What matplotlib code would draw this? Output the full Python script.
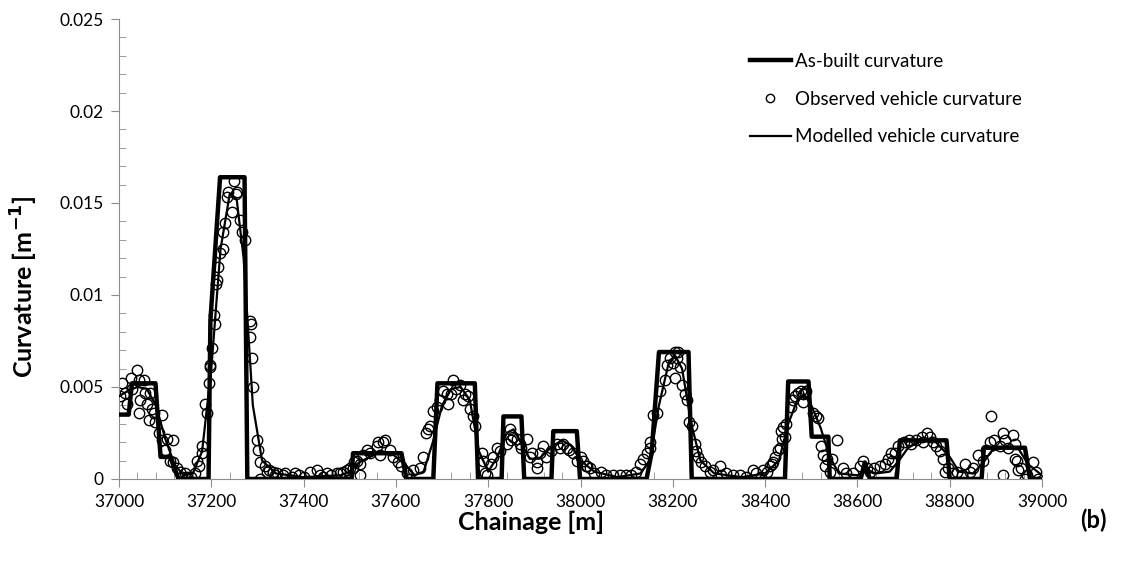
"""Curvature along the chainage: as-built design, observed vehicle and modelled vehicle."""

import numpy as np
import matplotlib
matplotlib.use('Agg')
import matplotlib.pyplot as plt
from matplotlib.ticker import MultipleLocator

plt.rcParams['font.family'] = ['Lato', 'DejaVu Sans']

# as-built curvature (piecewise linear alignment)
asbuilt_x = [37000, 37021, 37028, 37079, 37090, 37111, 37129, 37194, 37198, 37219, 37272, 37278,
             37504, 37507, 37612, 37623, 37681, 37690, 37771, 37778, 37829, 37833, 37872, 37878,
             37937, 37941, 37992, 37999, 38143, 38154, 38170, 38234, 38241, 38443, 38450, 38494,
             38501, 38537, 38540, 38607, 38616, 38627, 38685, 38692, 38793, 38800, 38869, 38874,
             38963, 38974, 39000]
asbuilt_y = [0.0035, 0.0035, 0.0052, 0.0052, 0.0012, 0.0012, 0.0, 0.0, 0.0086, 0.0164, 0.0164, 0.0,
             0.0, 0.0014, 0.0014, 0.0, 0.0, 0.0052, 0.0052, 0.0, 0.0, 0.0034, 0.0034, 0.0,
             0.0, 0.0026, 0.0026, 0.0, 0.0, 0.0014, 0.0069, 0.0069, 0.0, 0.0, 0.0053, 0.0053,
             0.0023, 0.0023, 0.0, 0.0, 0.0009, 0.0, 0.0, 0.0021, 0.0021, 0.0, 0.0, 0.0017,
             0.0017, 0.0, 0.0]

# observed vehicle curvature
obs_x = [37003, 37006, 37014, 37017, 37025, 37028, 37039, 37043, 37046, 37043, 37054, 37057,
         37061, 37064, 37068, 37072, 37075, 37079, 37093, 37086, 37093, 37104, 37118, 37100,
         37111, 37118, 37126, 37133, 37137, 37144, 37147, 37155, 37165, 37169, 37173, 37180,
         37180, 37187, 37191, 37194, 37198, 37197, 37201, 37206, 37208, 37210, 37212, 37215,
         37219, 37226, 37226, 37230, 37233, 37237, 37244, 37249, 37255, 37253, 37262, 37266,
         37273, 37284, 37285, 37284, 37288, 37290, 37298, 37302, 37306, 37316, 37320, 37306,
         37334, 37338, 37356, 37360, 37374, 37382, 37414, 37428, 37443, 37450, 37472, 37486,
         37500, 37510, 37390, 37400, 37436, 37460, 37343, 37326,
         37479, 37493, 37508, 37515, 37522, 37522, 37529, 37537, 37544, 37558, 37562, 37573,
         37576, 37566, 37587, 37594, 37605, 37612, 37623, 37630, 37637, 37652, 37659, 37666,
         37670, 37674, 37681, 37688, 37695, 37702, 37710, 37713, 37720, 37724, 37731, 37739,
         37746, 37750, 37757, 37761, 37768, 37771, 37786, 37789, 37793, 37797, 37807, 37811,
         37818, 37825, 37840, 37847, 37850, 37854, 37862, 37868, 37872, 37883, 37890, 37894,
         37905, 37905, 37912, 37919, 37926, 37937, 37948, 37955, 37962, 37970, 37976, 37984,
         37992, 38002, 38012,
         38006, 38013, 38020, 38030, 38045, 38056, 38070, 38085, 38099, 38110, 38121, 38128,
         38136, 38143, 38150, 38150, 38158, 38165, 38172, 38183, 38188, 38194, 38201, 38205,
         38208, 38212, 38205, 38215, 38219, 38226, 38230, 38234, 38241, 38248, 38251, 38255,
         38262, 38270, 38280, 38288, 38302, 38305, 38316, 38330, 38345, 38359, 38374, 38381,
         38395, 38410, 38418, 38421, 38428, 38436, 38439, 38446,
         38435, 38432, 38392, 38403, 38414, 38443, 38461, 38457, 38464, 38472, 38478, 38482,
         38486, 38489, 38482, 38504, 38511, 38515, 38522, 38526, 38533, 38544, 38555, 38529,
         38540, 38569, 38576, 38591, 38605, 38612, 38620, 38627, 38637, 38648, 38659, 38666,
         38673,
         38674, 38681, 38689, 38700, 38711, 38717, 38728, 38739, 38743, 38750, 38757, 38764,
         38771, 38779, 38786, 38790, 38797, 38804, 38815, 38826, 38833, 38844, 38851, 38862,
         38872, 38879, 38887, 38890, 38897, 38908, 38916, 38919, 38926, 38938, 38941, 38941,
         38945, 38948, 38916, 38955, 38963, 38967, 38981, 38988, 38991]
obs_y = [0.0045, 0.0052, 0.0047, 0.0041, 0.0055, 0.0049, 0.0059, 0.0054, 0.0043, 0.0036, 0.0054, 0.0047,
         0.0041, 0.0032, 0.0047, 0.0038, 0.0036, 0.0031, 0.0035, 0.0025, 0.0021, 0.0022, 0.0021, 0.0016,
         0.0010, 0.0009, 0.0006, 0.0004, 0.0001, 0.0003, 0.0001, 0.0001, 0.0003, 0.0010, 0.0007, 0.0014,
         0.0018, 0.0041, 0.0036, 0.0052, 0.0062, 0.0061, 0.0071, 0.0089, 0.0084, 0.0106, 0.0108, 0.0115,
         0.0123, 0.0125, 0.0134, 0.0139, 0.0153, 0.0156, 0.0145, 0.0162, 0.0156, 0.0155, 0.0141, 0.0134,
         0.0130, 0.0086, 0.0084, 0.0077, 0.0066, 0.0050, 0.0021, 0.0016, 0.0009, 0.0007, 0.0004, 0.0000,
         0.0004, 0.0002, 0.0002, 0.0003, 0.0001, 0.0003, 0.0004, 0.0005, 0.0001, 0.0003, 0.0003, 0.0004,
         0.0006, 0.0009, 0.0002, 0.0001, 0.0002, 0.0002, 0.0003, 0.0005,
         0.0003, 0.0005, 0.0006, 0.0010, 0.0002, 0.0008, 0.0013, 0.0016, 0.0014, 0.0018, 0.0020, 0.0020,
         0.0021, 0.0013, 0.0016, 0.0012, 0.0009, 0.0007, 0.0003, 0.0000, 0.0005, 0.0006, 0.0012, 0.0025,
         0.0027, 0.0029, 0.0037, 0.0039, 0.0043, 0.0048, 0.0046, 0.0041, 0.0046, 0.0054, 0.0049, 0.0051,
         0.0043, 0.0046, 0.0045, 0.0038, 0.0034, 0.0029, 0.0014, 0.0010, 0.0003, 0.0002, 0.0008, 0.0012,
         0.0017, 0.0015, 0.0019, 0.0027, 0.0021, 0.0023, 0.0022, 0.0019, 0.0017, 0.0022, 0.0012, 0.0014,
         0.0009, 0.0006, 0.0014, 0.0018, 0.0012, 0.0015, 0.0019, 0.0017, 0.0019, 0.0017, 0.0016, 0.0014,
         0.0010, 0.0012, 0.0007,
         0.0010, 0.0007, 0.0006, 0.0003, 0.0004, 0.0002, 0.0002, 0.0002, 0.0002, 0.0002, 0.0004, 0.0008,
         0.0011, 0.0014, 0.0020, 0.0017, 0.0035, 0.0036, 0.0048, 0.0054, 0.0062, 0.0066, 0.0063, 0.0069,
         0.0066, 0.0069, 0.0055, 0.0061, 0.0051, 0.0046, 0.0043, 0.0031, 0.0029, 0.0019, 0.0015, 0.0012,
         0.0009, 0.0007, 0.0004, 0.0005, 0.0007, 0.0002, 0.0003, 0.0002, 0.0002, 0.0001, 0.0005, 0.0003,
         0.0005, 0.0007, 0.0009, 0.0012, 0.0016, 0.0022, 0.0028, 0.0030,
         0.0026, 0.0017, 0.0001, 0.0004, 0.0008, 0.0023, 0.0043, 0.0039, 0.0045, 0.0047, 0.0048, 0.0046,
         0.0047, 0.0048, 0.0042, 0.0036, 0.0034, 0.0033, 0.0018, 0.0013, 0.0011, 0.0011, 0.0021, 0.0007,
         0.0004, 0.0006, 0.0003, 0.0003, 0.0007, 0.0010, 0.0006, 0.0004, 0.0006, 0.0007, 0.0008, 0.0011,
         0.0014,
         0.0010, 0.0014, 0.0018, 0.0020, 0.0021, 0.0019, 0.0021, 0.0023, 0.0020, 0.0025, 0.0023, 0.0020,
         0.0018, 0.0015, 0.0011, 0.0004, 0.0006, 0.0003, 0.0004, 0.0002, 0.0008, 0.0004, 0.0006, 0.0013,
         0.0010, 0.0016, 0.0020, 0.0034, 0.0021, 0.0018, 0.0025, 0.0021, 0.0017, 0.0024, 0.0019, 0.0011,
         0.0010, 0.0005, 0.0002, 0.0006, 0.0000, 0.0002, 0.0009, 0.0004, 0.0000]

# modelled vehicle curvature
model_x = [37000, 37020, 37040, 37060, 37080, 37100, 37120, 37140, 37160, 37180, 37200, 37220,
           37240, 37255, 37270, 37290, 37310, 37340, 37400, 37480, 37500, 37520, 37560, 37590,
           37620, 37640, 37660, 37680, 37700, 37720, 37740, 37760, 37780, 37800, 37820, 37840,
           37855, 37870, 37890, 37910, 37940, 37960, 37980, 38000, 38030, 38080, 38130, 38150,
           38170, 38190, 38205, 38220, 38240, 38260, 38290, 38350, 38400, 38430, 38450, 38470,
           38485, 38500, 38520, 38540, 38560, 38600, 38620, 38640, 38670, 38690, 38710, 38740,
           38770, 38800, 38820, 38850, 38870, 38890, 38920, 38950, 38970, 39000]
model_y = [0.0045, 0.0048, 0.0050, 0.0049, 0.0040, 0.0022, 0.0008, 0.0002, 0.0003, 0.0015, 0.0060, 0.0125,
           0.0155, 0.0152, 0.0120, 0.0040, 0.0010, 0.0003, 0.0001, 0.0002, 0.0004, 0.0009, 0.0014, 0.0014,
           0.0008, 0.0002, 0.0004, 0.0020, 0.0040, 0.0049, 0.0050, 0.0043, 0.0015, 0.0004, 0.0012, 0.0025,
           0.0027, 0.0020, 0.0011, 0.0011, 0.0018, 0.0021, 0.0018, 0.0010, 0.0004, 0.0001, 0.0003, 0.0010,
           0.0040, 0.0062, 0.0067, 0.0060, 0.0030, 0.0010, 0.0003, 0.0001, 0.0003, 0.0010, 0.0030, 0.0043,
           0.0046, 0.0040, 0.0028, 0.0012, 0.0003, 0.0002, 0.0005, 0.0003, 0.0004, 0.0010, 0.0017, 0.0021,
           0.0020, 0.0012, 0.0004, 0.0003, 0.0008, 0.0015, 0.0018, 0.0016, 0.0008, 0.0002]

fig = plt.figure(figsize=(11.27, 5.69), dpi=100)
ax = fig.add_axes([0.1056, 0.1582, 0.8190, 0.8084])

ax.plot(asbuilt_x, asbuilt_y, '-', color='black', lw=3.2, label='As-built curvature', zorder=3)
ax.plot(obs_x, obs_y, 'o', mfc='none', mec='black', mew=1.0, ms=7.5,
        label='Observed vehicle curvature', zorder=2)
ax.plot(model_x, model_y, '-', color='black', lw=1.6, label='Modelled vehicle curvature', zorder=4)

ax.set_xlim(37000, 39000)
ax.set_ylim(0, 0.025)
ax.xaxis.set_major_locator(MultipleLocator(200))
ax.xaxis.set_minor_locator(MultipleLocator(40))
ax.yaxis.set_minor_locator(MultipleLocator(0.001))
ax.set_yticks([0, 0.005, 0.01, 0.015, 0.02, 0.025])
ax.set_yticklabels(['0', '0.005', '0.01', '0.015', '0.02', '0.025'])

axis_grey = '#8c8c8c'
for side in ['top', 'right']:
    ax.spines[side].set_visible(False)
for side in ['left', 'bottom']:
    ax.spines[side].set_color(axis_grey)
ax.tick_params(which='major', direction='out', length=6, color=axis_grey, labelsize=12.5, pad=5)
ax.tick_params(which='minor', direction='in', length=5, color=axis_grey)

# axis titles sit where the spreadsheet put them, not centred on the axes
ax.set_xlabel('Chainage [m]', fontsize=18, fontweight='bold', va='center')
ax.xaxis.set_label_coords(0.446, -0.094)
ax.set_ylabel('Curvature [m$^{\\mathbf{-1}}$]', fontsize=18, fontweight='bold', va='center')
ax.yaxis.set_label_coords(-0.103, 0.417)
fig.text(0.982, 0.085, '(b)', fontsize=17, fontweight='bold', ha='right', va='center')

leg = ax.legend(loc='upper right', bbox_to_anchor=(0.996, 0.963), frameon=False, fontsize=13.5,
                handlelength=2.2, handletextpad=0.2, labelspacing=1.1, markerscale=0.8)

fig.savefig('out.png', dpi=100)
